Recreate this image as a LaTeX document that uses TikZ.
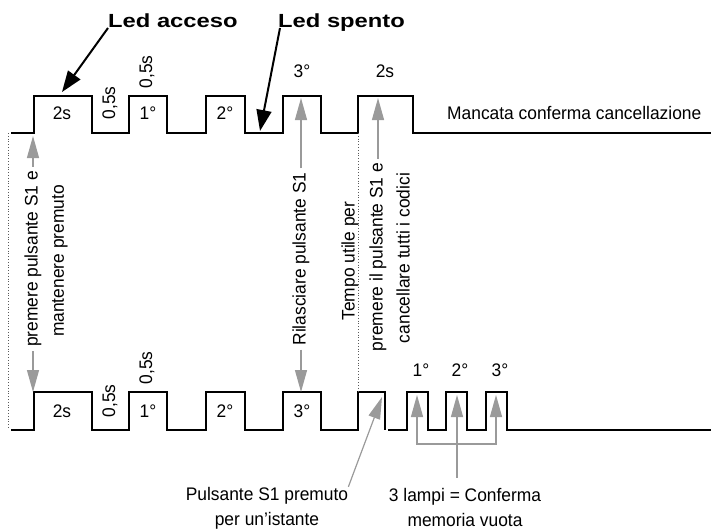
\documentclass[tikz,border=0pt]{standalone}
\usepackage{fontspec}
\setmainfont{Liberation Sans}[FakeStretch=0.955]
\newfontfamily\ledfont[FakeStretch=1.25]{Liberation Sans Bold}
\usepackage{tikz}
\usetikzlibrary{positioning, arrows.meta}
\definecolor{ptrgray}{HTML}{9A9A9A}
\definecolor{guidegray}{HTML}{5A5A5A}

\begin{document}
\begin{tikzpicture}[x=1pt, y=-1pt,
    font=\fontsize{18.2}{25}\selectfont,
    wave/.style={line width=2.3pt},
    pointer/.style={draw=ptrgray, line width=1.2pt, -{Triangle[length=22pt, width=12pt]}},
    ledarrow/.style={line width=2pt, -{Triangle[length=21pt, width=15pt]}},
    guide/.style={draw=guidegray, line width=0.8pt, dotted},
    txt/.style={inner sep=0pt},
    vtxt/.style={inner sep=4pt, rotate=90},
    ledtitle/.style={inner sep=0pt, anchor=base west, font=\fontsize{19}{22}\selectfont\ledfont}]
  \useasboundingbox (0,0) rectangle (711,530);

  % waveforms
  \draw[wave] (11,133) -| (34,96) -| (92,133) -| (129,96) -| (167,133) -| (206,96)
    -| (245,133) -| (283,96) -| (321,133) -| (358,96) -| (413,133) -- (711,133);
  \draw[wave] (11,430) -| (34,392) -| (92,430) -| (129,392) -| (167,430) -| (206,392)
    -| (245,430) -| (283,392) -| (321,430) -| (358,392) -| (385,430);
  \draw[wave] (388,430) -| (407,392) -| (428,430) -| (446,392) -| (467,430) -| (486,392)
    -| (507,430) -- (711,430);

  \draw[guide] (8,133) -- (8,428);
  \draw[guide] (358,133) -- (358,392);

  % timing labels
  \node[txt] at (62,113) {2s};
  \node[vtxt, inner sep=0pt] at (110,103) {0,5s};
  \node[vtxt, inner sep=0pt] at (147,72) {0,5s};
  \node[txt] at (148,113) {1°};
  \node[txt] at (225,113) {2°};
  \node[txt] at (302,71) {3°};
  \node[txt] at (385,71) {2s};
  \node[txt, anchor=west] (fail) at (447,113) {Mancata conferma cancellazione};

  \node[txt] at (62,411) {2s};
  \node[vtxt, inner sep=0pt] at (110,401) {0,5s};
  \node[vtxt, inner sep=0pt] at (147,368) {0,5s};
  \node[txt] at (148,411) {1°};
  \node[txt] at (225,411) {2°};
  \node[txt] at (302,411) {3°};
  \node[txt] at (421,370) {1°};
  \node[txt] at (460,370) {2°};
  \node[txt] at (500,370) {3°};

  % led titles
  \node[ledtitle] (ledon) at (108,27) {Led acceso};
  \node[ledtitle] (ledoff) at (278,27) {Led spento};
  \coordinate (onTip) at (62,92);
  \coordinate (offTip) at (260,131);
  \draw[ledarrow] ([yshift=-1pt]ledon.base west) -- (onTip);
  \draw[ledarrow] ([yshift=-1pt, xshift=2pt]ledoff.base west) -- (offTip);

  % notes between the waveforms
  \node[vtxt] (hold1) at (33,259) {premere pulsante S1 e};
  \node[vtxt] (hold2) at (60,261) {mantenere premuto};
  \coordinate (holdTop) at (33,136);
  \coordinate (holdBot) at (33,392);
  \draw[pointer] (hold1.east) -- (holdTop);
  \draw[pointer] (hold1.west) -- (holdBot);

  \node[vtxt] (release) at (301,259) {Rilasciare pulsante S1};
  \coordinate (relTop) at (301,98);
  \coordinate (relBot) at (301,392);
  \draw[pointer] (release.east) -- (relTop);
  \draw[pointer] (release.west) -- (relBot);

  \node[vtxt] (window1) at (350,261) {Tempo utile per};
  \node[vtxt] (window2) at (378,257) {premere il pulsante S1 e};
  \node[vtxt] (window3) at (403,258) {cancellare tutti i codici};
  \coordinate (winTop) at (378,98);
  \draw[pointer] (window2.east) -- (winTop);

  % notes under the lower waveform
  \node[txt, align=center] (tap) at (267,508) {Pulsante S1 premuto\\per un'istante};
  \node[txt, align=center] (lampi) at (465,507) {3 lampi = Conferma\\memoria vuota};
  \coordinate (tapTip) at (382,397);
  \draw[pointer] (tap.north east) -- (tapTip);

  \coordinate (f1) at (417,395);
  \coordinate (f2) at (457,395);
  \coordinate (f3) at (496,395);
  \coordinate (b2) at (457,444);
  \draw[pointer, {Triangle[length=22pt, width=12pt]}-{Triangle[length=22pt, width=12pt]}]
    (f1) |- (b2) -| (f3);
  \draw[pointer] ([yshift=10pt]lampi.north -| f2) -- (f2);
\end{tikzpicture}
\end{document}
